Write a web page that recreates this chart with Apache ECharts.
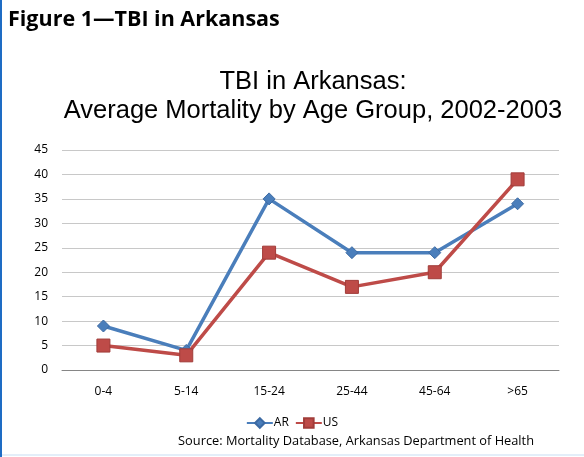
<!DOCTYPE html>
<html>
<head>
<meta charset="utf-8">
<script src="https://cdn.jsdelivr.net/npm/echarts@6/dist/echarts.min.js"></script>
<style>
  html, body { margin: 0; padding: 0; background: #ffffff; }
  #chart { width: 584px; height: 457px; }
</style>
</head>
<body>
<div id="chart"></div>
<script>
// age groups along the x axis
var ageGroups = ['0-4', '5-14', '15-24', '25-44', '45-64', '>65'];
// average mortality
var arValues = [9, 4, 35, 24, 24, 34];
var usValues = [5, 3, 24, 17, 20, 39];

var chart = echarts.init(document.getElementById('chart'));

var option = {
  animation: false,
  color: ['#4a7ebb', '#be4b48'],
  title: {
    text: 'TBI in Arkansas:\nAverage Mortality by Age Group, 2002-2003',
    left: 308,
    top: 62,
    textAlign: 'center',
    textStyle: {
      fontFamily: 'Liberation Sans',
      fontWeight: 'normal',
      fontSize: 25.5,
      color: '#000000',
      lineHeight: 29,
      align: 'center'
    }
  },
  graphic: [
    {
      type: 'rect',
      shape: { x: 0, y: 0, width: 2, height: 457 },
      style: { fill: '#1e6cc4' }
    },
    {
      type: 'rect',
      shape: { x: 2, y: 454, width: 582, height: 2 },
      style: { fill: '#e3eef9' }
    },
    {
      type: 'text',
      left: 8,
      top: 9,
      style: {
        text: 'Figure 1\u2014TBI in Arkansas',
        font: 'bold 21.5px "Open Sans"',
        fill: '#000000'
      }
    },
    {
      type: 'text',
      right: 50,
      top: 435,
      style: {
        text: 'Source: Mortality Database, Arkansas Department of Health',
        font: '12.8px "Open Sans"',
        fill: '#000000'
      }
    }
  ],
  legend: {
    left: 'center',
    top: 412,
    itemGap: 6,
    itemWidth: 26,
    itemHeight: 12,
    textStyle: { fontFamily: 'Open Sans', fontSize: 12, color: '#000000', padding: [0, 0, 0, -4] },
    data: ['AR', 'US']
  },
  grid: {
    left: 62,
    right: 25,
    top: 150,
    bottom: 87
  },
  xAxis: {
    type: 'category',
    data: ageGroups,
    axisLine: { lineStyle: { color: '#868686', width: 1 } },
    axisTick: { show: false },
    axisLabel: { fontFamily: 'Open Sans', fontSize: 12, color: '#000000', margin: 16 }
  },
  yAxis: {
    type: 'value',
    min: 0,
    max: 45,
    interval: 5,
    axisLine: { show: false },
    axisTick: { show: false },
    axisLabel: { fontFamily: 'Open Sans', fontSize: 12, color: '#000000', margin: 14 },
    splitLine: { lineStyle: { color: '#c8c8c8', width: 1 } }
  },
  series: [
    {
      name: 'AR',
      type: 'line',
      data: arValues,
      symbol: 'diamond',
      symbolSize: 12,
      lineStyle: { width: 3.5 },
      itemStyle: { color: '#4a7ebb', borderColor: '#3c6aa3', borderWidth: 1 }
    },
    {
      name: 'US',
      type: 'line',
      data: usValues,
      symbol: 'rect',
      symbolSize: 13,
      lineStyle: { width: 3.5 },
      itemStyle: { color: '#be4b48', borderColor: '#a13c39', borderWidth: 1 }
    }
  ]
};

chart.setOption(option);
</script>
</body>
</html>
